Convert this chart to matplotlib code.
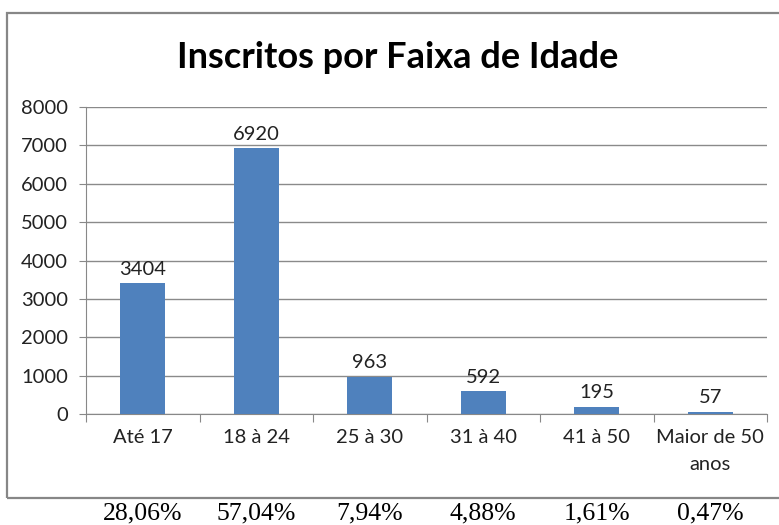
import matplotlib.pyplot as plt
from matplotlib.patches import Rectangle

categorias = ["Até 17", "18 à 24", "25 à 30", "31 à 40", "41 à 50", "Maior de 50\nanos"]
inscritos = [3404, 6920, 963, 592, 195, 57]
percentuais = ["28,06%", "57,04%", "7,94%", "4,88%", "1,61%", "0,47%"]

plt.rcParams['font.family'] = ['Lato', 'DejaVu Sans']

fig = plt.figure(figsize=(7.79, 5.25), dpi=100)
W, H = 779, 525

# moldura do grafico (sai pela direita)
fig.patches.append(Rectangle((7 / W, 1 - 498 / H), 800 / W, (498 - 13) / H,
                             transform=fig.transFigure, fill=False,
                             edgecolor="#878787", linewidth=1.6))

ax = fig.add_axes([86 / W, 1 - 414 / H, (767 - 86) / W, (414 - 107) / H])

x = list(range(len(categorias)))
bars = ax.bar(x, inscritos, width=0.4, color="#4F81BD", zorder=3)

for b, v in zip(bars, inscritos):
    ax.annotate(str(v), (b.get_x() + b.get_width() / 2, v), xytext=(0, 4),
                textcoords="offset points", ha="center", va="bottom",
                fontsize=14.5, color="#222222")

ax.set_xlim(-0.5, len(categorias) - 0.5)
ax.set_ylim(0, 8000)
ax.set_yticks(range(0, 8001, 1000))
ax.tick_params(axis="y", labelsize=14.5, length=5, color="#888888", pad=8, labelcolor="#222222")
ax.yaxis.grid(True, color="#8a8a8a", linewidth=1.0, zorder=0)

ax.set_xticks([i - 0.5 for i in range(len(categorias) + 1)])
ax.set_xticklabels([])
ax.set_xticks(x, minor=True)
ax.set_xticklabels(categorias, minor=True, fontsize=14.5, color="#222222", linespacing=1.7)
ax.tick_params(axis="x", which="minor", length=0, pad=11)
ax.tick_params(axis="x", which="major", length=6, color="#888888")

for s in ["top", "right"]:
    ax.spines[s].set_visible(False)
for s in ["left", "bottom"]:
    ax.spines[s].set_color("#888888")

fig.text(398 / W, 1 - 58 / H, "Inscritos por Faixa de Idade", ha="center", va="center",
         fontsize=26, fontweight="bold", color="black")

for i, p in enumerate(percentuais):
    xf = (86 + (i + 0.5) * (767 - 86) / len(categorias)) / W
    fig.text(xf, 1 - 513 / H, p, ha="center", va="center", fontsize=18.5,
             family="Liberation Serif", color="black")

fig.savefig("out.png", dpi=100)
